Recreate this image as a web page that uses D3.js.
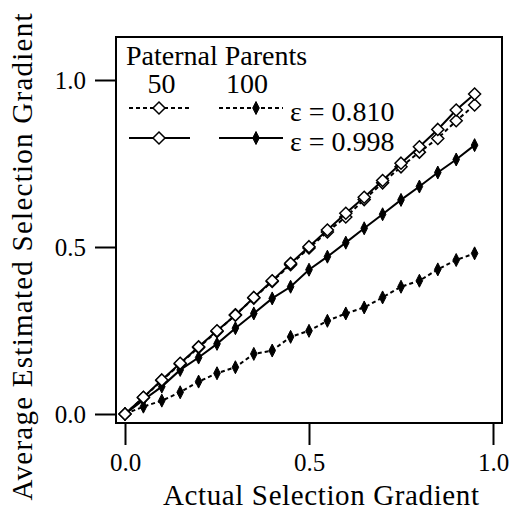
<!DOCTYPE html>
<html>
<head>
<meta charset="utf-8">
<script src="https://cdn.jsdelivr.net/npm/d3@7"></script>
<style>
  body { margin: 0; background: #fff; }
  svg text { font-family: "Liberation Serif", "DejaVu Serif", serif; fill: #000; }
</style>
</head>
<body>
<div id="my_dataviz"></div>
<script>
// actual selection gradient (x)
var actual = [0, 0.05, 0.10, 0.15, 0.20, 0.25, 0.30, 0.35, 0.40, 0.45,
              0.50, 0.55, 0.60, 0.65, 0.70, 0.75, 0.80, 0.85, 0.90, 0.95];

// estimated gradients, 50 paternal parents (open) and 100 (filled)
var open810 = [0, 0.049, 0.100, 0.150, 0.199, 0.247, 0.297, 0.347, 0.397, 0.447,
               0.497, 0.545, 0.590, 0.642, 0.692, 0.740, 0.784, 0.825, 0.878, 0.925];
var open998 = [0, 0.050, 0.102, 0.152, 0.201, 0.249, 0.296, 0.349, 0.399, 0.451,
               0.501, 0.551, 0.601, 0.649, 0.699, 0.751, 0.800, 0.852, 0.910, 0.958];
var filled810 = [0, 0.022, 0.040, 0.065, 0.097, 0.122, 0.140, 0.180, 0.190, 0.231,
                 0.249, 0.279, 0.301, 0.319, 0.349, 0.381, 0.399, 0.433, 0.461, 0.481];
var filled998 = [0, 0.042, 0.082, 0.132, 0.169, 0.210, 0.257, 0.301, 0.346, 0.381,
                 0.432, 0.471, 0.513, 0.556, 0.598, 0.641, 0.681, 0.723, 0.762, 0.805];

var xTicks = [0, 0.5, 1.0];
var yTicks = [0, 0.5, 1.0];
var legendTitle = "Paternal Parents";
var legendCols = ["50", "100"];
var legendRows = ["\u03b5 = 0.810", "\u03b5 = 0.998"];

var width = 512, height = 516;
var frame = {left: 116, right: 502, top: 37, bottom: 423};
var serif = "'Liberation Serif', 'DejaVu Serif', serif";

var svg = d3.select("#my_dataviz")
    .append("svg")
        .attr("width", width)
        .attr("height", height);

var x = d3.scaleLinear().domain([0, 1]).range([125, 493]);
var y = d3.scaleLinear().domain([0, 1]).range([414, 80]);

// frame
svg.append("rect")
    .attr("x", frame.left)
    .attr("y", frame.top)
    .attr("width", frame.right - frame.left)
    .attr("height", frame.bottom - frame.top)
    .attr("fill", "none")
    .attr("stroke", "#000")
    .attr("stroke-width", 2);

// axes (ticks outside the frame)
var gx = svg.append("g")
    .attr("transform", "translate(0," + frame.bottom + ")")
    .call(d3.axisBottom(x).tickValues(xTicks).tickFormat(d3.format(".1f"))
        .tickSize(22).tickPadding(8));
var gy = svg.append("g")
    .attr("transform", "translate(" + frame.left + ",0)")
    .call(d3.axisLeft(y).tickValues(yTicks).tickFormat(d3.format(".1f"))
        .tickSize(21).tickPadding(9));
[gx, gy].forEach(function(g) {
    g.attr("font-family", serif);
    g.select(".domain").remove();
    g.selectAll("line").attr("stroke", "#000").attr("stroke-width", 2);
    g.selectAll("text").style("font-size", "25px")
        .style("font-family", serif).attr("fill", "#000");
});

// axis titles
svg.append("text")
    .attr("x", 321)
    .attr("y", 505)
    .attr("text-anchor", "middle")
    .style("font-family", serif)
    .style("font-size", "29px")
    .attr("textLength", 316)
    .text("Actual Selection Gradient");

svg.append("text")
    .attr("x", -257)
    .attr("y", 32)
    .attr("transform", "rotate(-90)")
    .attr("text-anchor", "middle")
    .style("font-family", serif)
    .style("font-size", "29px")
    .attr("textLength", 487)
    .text("Average Estimated Selection Gradient");

// diamonds
function openDiamond(s) {
    return "M0," + (-s) + "L" + s + ",0L0," + s + "L" + (-s) + ",0Z";
}
function filledDiamond(w, h) {
    return "M0," + (-h) + "L" + w + ",0L0," + h + "L" + (-w) + ",0Z";
}

var series = [
    {vals: filled810, dash: "4,3", open: false},
    {vals: filled998, dash: null, open: false},
    {vals: open810, dash: "4,3", open: true},
    {vals: open998, dash: null, open: true}
];

var line = d3.line()
    .x(function(d) { return x(d.x); })
    .y(function(d) { return y(d.y); });

series.forEach(function(s) {
    var pts = actual.map(function(a, i) { return {x: a, y: s.vals[i]}; });
    svg.append("path")
        .datum(pts)
        .attr("fill", "none")
        .attr("stroke", "#000")
        .attr("stroke-width", 2)
        .attr("stroke-dasharray", s.dash)
        .attr("d", line);
    svg.append("g")
        .selectAll("path")
        .data(pts)
        .enter()
        .append("path")
        .attr("transform", function(d) { return "translate(" + x(d.x) + "," + y(d.y) + ")"; })
        .attr("d", s.open ? openDiamond(6) : filledDiamond(3.3, 6.5))
        .attr("fill", s.open ? "#fff" : "#000")
        .attr("stroke", "#000")
        .attr("stroke-width", s.open ? 1.5 : 1);
});

// legend
svg.append("text")
    .attr("x", 126)
    .attr("y", 65)
    .style("font-family", serif)
    .style("font-size", "28px")
    .text(legendTitle);

var colX = [[129, 190], [219, 283]];
legendCols.forEach(function(c, i) {
    svg.append("text")
        .attr("x", (colX[i][0] + colX[i][1]) / 2 + (i == 0 ? 2 : -4))
        .attr("y", 93)
        .attr("text-anchor", "middle")
        .style("font-family", serif)
        .style("font-size", "28px")
        .text(c);
});

var rowY = [108, 138];
legendRows.forEach(function(r, j) {
    colX.forEach(function(cx, i) {
        svg.append("line")
            .attr("x1", cx[0]).attr("x2", cx[1])
            .attr("y1", rowY[j]).attr("y2", rowY[j])
            .attr("stroke", "#000")
            .attr("stroke-width", 2)
            .attr("stroke-dasharray", j == 0 ? "4,3" : null);
        var mid = i == 0 ? 159 : 256;
        svg.append("path")
            .attr("transform", "translate(" + mid + "," + rowY[j] + ")")
            .attr("d", i == 0 ? openDiamond(6) : filledDiamond(3.3, 6.5))
            .attr("fill", i == 0 ? "#fff" : "#000")
            .attr("stroke", "#000")
            .attr("stroke-width", i == 0 ? 1.5 : 1);
    });
    svg.append("text")
        .attr("x", 290)
        .attr("y", rowY[j] + 13)
        .style("font-family", serif)
        .style("font-size", "28px")
        .text(r);
});
</script>
</body>
</html>
